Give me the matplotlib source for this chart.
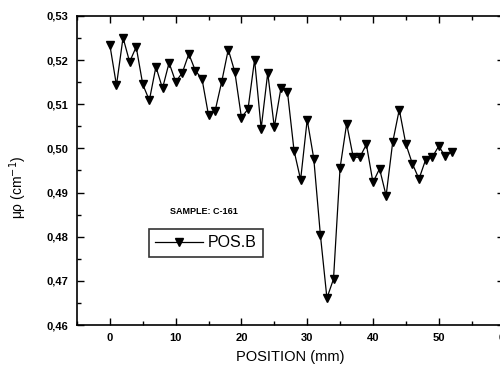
import matplotlib
matplotlib.use("Agg")
import matplotlib.pyplot as plt
from matplotlib.ticker import MultipleLocator, FuncFormatter

plt.rcParams['font.family'] = ['Liberation Sans', 'DejaVu Sans']

# position (mm) and linear attenuation coefficient
position = list(range(0, 53))
mu = [0.5234, 0.5143, 0.5251, 0.5196, 0.5230, 0.5145, 0.5109, 0.5185, 0.5136, 0.5194,
      0.5151, 0.5171, 0.5214, 0.5176, 0.5158, 0.5075, 0.5085, 0.5151, 0.5224, 0.5173,
      0.5070, 0.5089, 0.5201, 0.5045, 0.5171, 0.5048, 0.5136, 0.5128, 0.4995, 0.4929,
      0.5065, 0.4977, 0.4805, 0.4661, 0.4704, 0.4956, 0.5056, 0.4980, 0.4980, 0.5009,
      0.4923, 0.4954, 0.4893, 0.5014, 0.5088, 0.5010, 0.4965, 0.4931, 0.4974, 0.4980,
      0.5005, 0.4982, 0.4992]
series_label = "POS.B"
sample_text = "SAMPLE: C-161"

fig = plt.figure(figsize=(5, 3.7), dpi=100)
ax = fig.add_axes([0.154, 0.1216, 0.855, 0.8352])

ax.plot(position, mu, color='black', lw=0.9, marker='v', ms=5.2,
        mfc='black', mec='black', label=series_label)

ax.set_xlim(-5, 60)
ax.set_ylim(0.46, 0.53)
ax.xaxis.set_major_locator(MultipleLocator(10))
ax.xaxis.set_minor_locator(MultipleLocator(5))
ax.yaxis.set_major_locator(MultipleLocator(0.01))
ax.yaxis.set_minor_locator(MultipleLocator(0.005))
ax.yaxis.set_major_formatter(FuncFormatter(lambda v, p: f"{v:.2f}".replace('.', ',')))
ax.xaxis.set_major_formatter(FuncFormatter(lambda v, p: f"{v:.0f}"))

ax.tick_params(which='both', direction='in', top=True, right=True, width=1.0)
ax.tick_params(which='major', length=5, labelsize=8, pad=6)
ax.tick_params(which='minor', length=3)
for lab in ax.get_xticklabels() + ax.get_yticklabels():
    lab.set_fontweight('bold')
for s in ax.spines.values():
    s.set_linewidth(1.2)

ax.set_xlabel("POSITION (mm)", fontsize=10.5, labelpad=5)
ax.set_ylabel(r"μρ (cm$^{-1}$)", fontsize=10)
ax.yaxis.set_label_coords(-0.112, 0.447)

ax.text(0.218, 0.366, sample_text, transform=ax.transAxes, fontsize=6.5,
        fontweight='bold', ha='left', va='center')

leg = ax.legend(loc='upper left', bbox_to_anchor=(0.168, 0.311), borderaxespad=0,
                fontsize=11.5, handlelength=3.0, handletextpad=0.3, borderpad=0.4,
                fancybox=False, frameon=True, edgecolor='black')
leg.get_frame().set_linewidth(1.2)

fig.savefig("out.png", dpi=100)
